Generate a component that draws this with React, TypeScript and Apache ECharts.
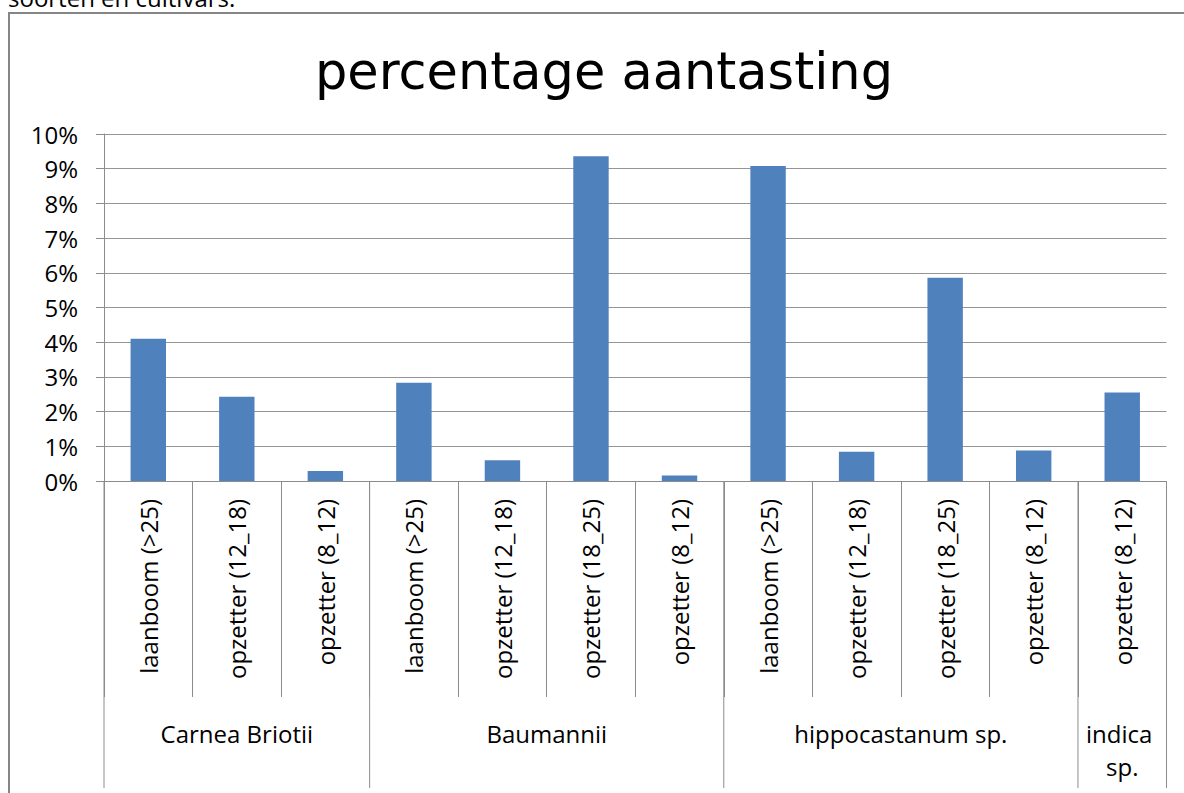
import React, { useEffect, useRef } from "react";
import * as echarts from "echarts";

const categories = [
  "laanboom (>25)",
  "opzetter (12_18)",
  "opzetter (8_12)",
  "laanboom (>25)",
  "opzetter (12_18)",
  "opzetter (18_25)",
  "opzetter (8_12)",
  "laanboom (>25)",
  "opzetter (12_18)",
  "opzetter (18_25)",
  "opzetter (8_12)",
  "opzetter (8_12)",
];
const groupNames = ["Carnea Briotii", "Baumannii", "hippocastanum sp.", "indica sp."];
const groupSizes = [3, 4, 4, 1];
const values = [4.1, 2.43, 0.29, 2.83, 0.6, 9.36, 0.16, 9.08, 0.84, 5.86, 0.88, 2.55];
const titleText = "percentage aantasting";
const captionText = "soorten en cultivars.";

export default function App() {
  const ref = useRef<HTMLDivElement>(null);
  useEffect(() => {
    const chart = echarts.init(ref.current!, null, { renderer: "svg" });
    const font = "'Open Sans', sans-serif";
    const gray = "#8c8c8c";
    chart.setOption({
      animation: false,
      backgroundColor: "#ffffff",
      grid: { left: 104, right: 17.5, top: 134, bottom: 312 },
      xAxis: {
        type: "category",
        data: categories,
        axisLine: { lineStyle: { color: gray, width: 1 } },
        axisTick: { show: true, interval: 0, length: 216, lineStyle: { color: gray } },
        axisLabel: {
          interval: 0,
          rotate: 90,
          margin: 18,
          fontFamily: font,
          fontSize: 24,
          color: "#000",
        },
      },
      yAxis: {
        type: "value",
        min: 0,
        max: 10,
        interval: 1,
        axisLine: { show: true, lineStyle: { color: gray } },
        axisTick: { show: true, length: 8, lineStyle: { color: gray } },
        splitLine: { lineStyle: { color: "#959595", width: 1 } },
        axisLabel: {
          formatter: "{value}%",
          margin: 26,
          fontFamily: font,
          fontSize: 24,
          color: "#000",
        },
      },
      series: [
        {
          type: "bar",
          data: values,
          barWidth: "40%",
          itemStyle: { color: "#4F81BD" },
        },
      ],
    });

    const p0 = chart.convertToPixel({ gridIndex: 0 }, [0, 0]) as number[];
    const p1 = chart.convertToPixel({ gridIndex: 0 }, [1, 0]) as number[];
    const bw = p1[0] - p0[0];
    const axisY = p0[1];
    const graphics: any[] = [
      {
        type: "rect",
        shape: { x: 9, y: 13, width: 1400, height: 1000 },
        style: { fill: "none", stroke: "#868686", lineWidth: 2 },
        silent: true,
      },
      {
        type: "text",
        x: 8,
        y: -3,
        style: {
          text: captionText,
          fontFamily: font,
          fontSize: 24,
          fill: "#000",
          verticalAlign: "middle",
        },
      },
      {
        type: "text",
        x: 604,
        y: 71,
        style: {
          text: titleText,
          fontFamily: "'DejaVu Sans', sans-serif",
          fontSize: 51,
          fill: "#000",
          align: "center",
          verticalAlign: "middle",
        },
      },
    ];
    let start = 0;
    groupSizes.forEach((size, gi) => {
      const c = chart.convertToPixel({ gridIndex: 0 }, [start, 0]) as number[];
      const x0 = c[0] - bw / 2;
      const x1 = x0 + bw * size;
      graphics.push({
        type: "line",
        shape: { x1: x0, y1: axisY, x2: x0, y2: 788 },
        style: { stroke: gray, lineWidth: 1 },
        silent: true,
      });
      if (gi === groupSizes.length - 1) {
        graphics.push({
          type: "line",
          shape: { x1: x1, y1: axisY, x2: x1, y2: 788 },
          style: { stroke: gray, lineWidth: 1 },
          silent: true,
        });
      }
      graphics.push({
        type: "text",
        x: (x0 + x1) / 2,
        y: 717,
        style: {
          text: groupNames[gi],
          fontFamily: font,
          fontSize: 24,
          fill: "#000",
          align: "center",
          verticalAlign: "top",
          lineHeight: 33,
          width: bw * size - 8,
          overflow: "break",
        },
      });
      start += size;
    });
    chart.setOption({ graphic: graphics });

    return () => chart.dispose();
  }, []);
  return (
    <div
      ref={ref}
      style={{ position: "fixed", left: 0, top: 0, width: 1184, height: 793, background: "#fff" }}
    />
  );
}
